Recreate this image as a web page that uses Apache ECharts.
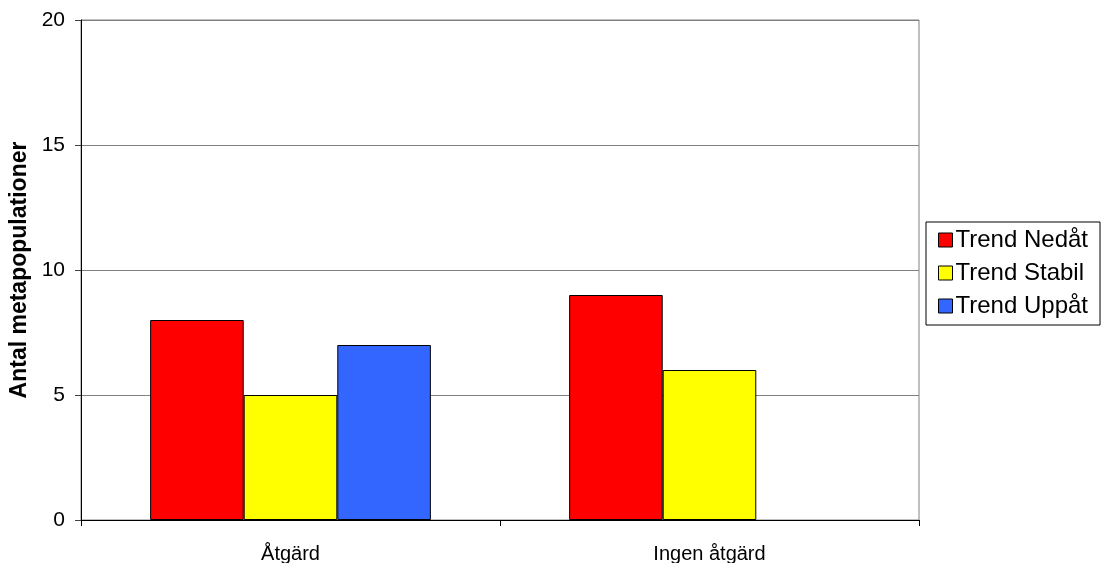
<!DOCTYPE html>
<html>
<head>
<meta charset="utf-8">
<script src="https://cdn.jsdelivr.net/npm/echarts@6/dist/echarts.min.js"></script>
<style>
  html, body { margin: 0; padding: 0; background: #fff; }
  #chart { width: 1105px; height: 563px; }
</style>
</head>
<body>
<div id="chart"></div>
<script>
// Categories and series values
const categories = ['Åtgärd', 'Ingen åtgärd'];
const seriesNames = ['Trend Nedåt', 'Trend Stabil', 'Trend Uppåt'];
const trendNedat = [8, 9];
const trendStabil = [5, 6];
const trendUppat = [7, null];
const seriesColors = ['#FF0000', '#FFFF00', '#3366FF'];
const yTicks = [0, 5, 10, 15, 20];

const FONT = '"Liberation Sans", Arial, sans-serif';
const values = [trendNedat, trendStabil, trendUppat];

const chart = echarts.init(document.getElementById('chart'), null, { renderer: 'canvas' });

chart.setOption({
  backgroundColor: '#ffffff',
  animation: false,
  textStyle: { fontFamily: FONT },
  grid: {
    left: 81, right: 186, top: 20, bottom: 43,
    containLabel: false,
    outerBoundsMode: 'none',
    show: true, borderColor: '#808080', borderWidth: 1, backgroundColor: 'transparent'
  },
  legend: {
    orient: 'vertical',
    left: 926, top: 222,
    width: 177,
    padding: [6, 12, 7, 12],
    itemWidth: 14, itemHeight: 14, itemGap: 9,
    borderColor: '#000', borderWidth: 1,
    icon: 'rect',
    itemStyle: { borderColor: '#000', borderWidth: 1 },
    textStyle: { fontFamily: FONT, fontSize: 24, color: '#000', padding: [0, 0, 0, -2] },
    data: seriesNames
  },
  xAxis: {
    type: 'category',
    data: categories,
    axisLine: { show: true, lineStyle: { color: '#000', width: 1 } },
    axisTick: { show: true, length: 6, alignWithLabel: false, lineStyle: { color: '#000' } },
    axisLabel: { fontFamily: FONT, fontSize: 20, color: '#000', margin: 24 },
    splitLine: { show: false }
  },
  yAxis: {
    type: 'value',
    min: yTicks[0], max: yTicks[yTicks.length - 1], interval: yTicks[1] - yTicks[0],
    name: 'Antal metapopulationer',
    nameLocation: 'middle',
    nameGap: 46,
    nameTextStyle: { fontFamily: FONT, fontSize: 23, fontWeight: 'bold', color: '#000' },
    axisLine: { show: true, lineStyle: { color: '#000', width: 1 } },
    axisTick: { show: true, length: 6, lineStyle: { color: '#404040' } },
    axisLabel: { fontFamily: FONT, fontSize: 21, color: '#000', margin: 16 },
    splitLine: { show: true, lineStyle: { color: '#808080', width: 1 } }
  },
  series: seriesNames.map((name, i) => ({
    name: name,
    type: 'bar',
    data: values[i],
    barGap: '0%',
    barCategoryGap: '33%',
    itemStyle: { color: seriesColors[i], borderColor: '#000', borderWidth: 1 }
  }))
});
</script>
</body>
</html>
